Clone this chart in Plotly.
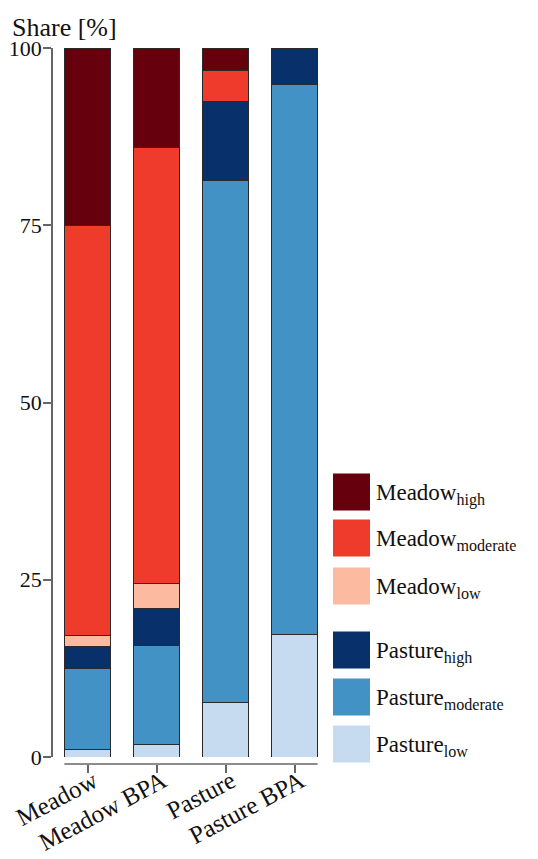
import plotly.graph_objects as go

# Share of land-use intensity classes per grassland category (stacked to 100 %)
categories = ["Meadow", "Meadow BPA", "Pasture", "Pasture BPA"]

pasture_low = [1.0, 1.7, 7.7, 17.3]
pasture_moderate = [11.5, 14.0, 73.6, 77.6]
pasture_high = [3.1, 5.2, 11.1, 5.1]
meadow_low = [1.5, 3.6, 0.0, 0.0]
meadow_moderate = [57.9, 61.4, 4.4, 0.0]
meadow_high = [25.0, 14.1, 3.2, 0.0]

y_ticks = [0, 25, 50, 75, 100]

# Series in stacking order (bottom to top): values, colour, legend label
series = [
    (pasture_low, "#c6dbef", "Pasture<sub>low</sub>"),
    (pasture_moderate, "#4292c6", "Pasture<sub>moderate</sub>"),
    (pasture_high, "#08306b", "Pasture<sub>high</sub>"),
    (meadow_low, "#fcbba1", "Meadow<sub>low</sub>"),
    (meadow_moderate, "#ef3b2c", "Meadow<sub>moderate</sub>"),
    (meadow_high, "#67000d", "Meadow<sub>high</sub>"),
]

W_FIG, H_FIG = 538, 859
M_L, M_R, M_T, M_B = 53, 209, 48, 95
PW = W_FIG - M_L - M_R
PH = H_FIG - M_T - M_B
BAR_GAP = 0.33
FONT = "Liberation Serif, Times New Roman, serif"
AXIS_GREY = "#666666"
TEXT = "#111111"


def fx(px):
    """Pixel column -> paper x."""
    return (px - M_L) / PW


def fy(py):
    """Pixel row -> paper y."""
    return (H_FIG - M_B - py) / PH


fig = go.Figure()
for values, color, label in series:
    fig.add_trace(go.Bar(
        x=categories, y=values, name=label,
        marker=dict(color=color, line=dict(color="#2a2a2a", width=1)),
        showlegend=False,
    ))

# Hand-built legend with large swatches, meadow group above pasture group
legend_rows = [
    (series[5], 492), (series[4], 538), (series[3], 586),
    (series[2], 650), (series[1], 697), (series[0], 744),
]
shapes = []
annotations = []
for (values, color, label), cy in legend_rows:
    shapes.append(dict(
        type="rect", xref="paper", yref="paper",
        x0=fx(333), x1=fx(370), y0=fy(cy + 18.5), y1=fy(cy - 18.5),
        fillcolor=color, line=dict(width=0),
    ))
    annotations.append(dict(
        xref="paper", yref="paper", x=fx(374), y=fy(cy + 2),
        xanchor="left", yanchor="middle", text=label, showarrow=False,
        font=dict(family=FONT, size=23, color=TEXT),
    ))

# Axis title at the top of the y axis
annotations.append(dict(
    xref="paper", yref="paper", x=fx(10), y=fy(44),
    xanchor="left", yanchor="bottom", text="Share [%]", showarrow=False,
    font=dict(family=FONT, size=26, color=TEXT),
))

# Detached x-axis line spanning the outer bar edges
half = (1 - BAR_GAP) / 2
shapes.append(dict(
    type="line", xref="x", yref="paper",
    x0=-half, x1=len(categories) - 1 + half, y0=0, y1=0,
    line=dict(color=AXIS_GREY, width=1.5),
))

fig.update_layout(
    width=W_FIG, height=H_FIG,
    margin=dict(l=M_L, r=M_R, t=M_T, b=M_B, autoexpand=False),
    paper_bgcolor="white", plot_bgcolor="white",
    barmode="stack", bargap=BAR_GAP,
    shapes=shapes, annotations=annotations,
    font=dict(family=FONT, size=22, color=TEXT),
    xaxis=dict(
        type="category", range=[-0.5, len(categories) - 0.5],
        anchor="free", position=0, automargin=False,
        showline=False, showgrid=False, zeroline=False,
        ticks="outside", ticklen=8, tickwidth=1.5, tickcolor=AXIS_GREY,
        tickangle=-28, ticklabelstandoff=-16, ticklabelshift=6,
        tickfont=dict(family=FONT, size=25, color=TEXT),
    ),
    yaxis=dict(
        range=[0, 100], domain=[7 / PH, 1], automargin=False,
        tickvals=y_ticks, ticktext=[str(v) for v in y_ticks],
        showline=True, linecolor=AXIS_GREY, linewidth=1.5,
        showgrid=False, zeroline=False,
        ticks="outside", ticklen=8, tickwidth=1.5, tickcolor=AXIS_GREY,
        ticklabelstandoff=-3,
        tickfont=dict(family=FONT, size=22, color=TEXT),
    ),
)

fig.write_html("out.html")
